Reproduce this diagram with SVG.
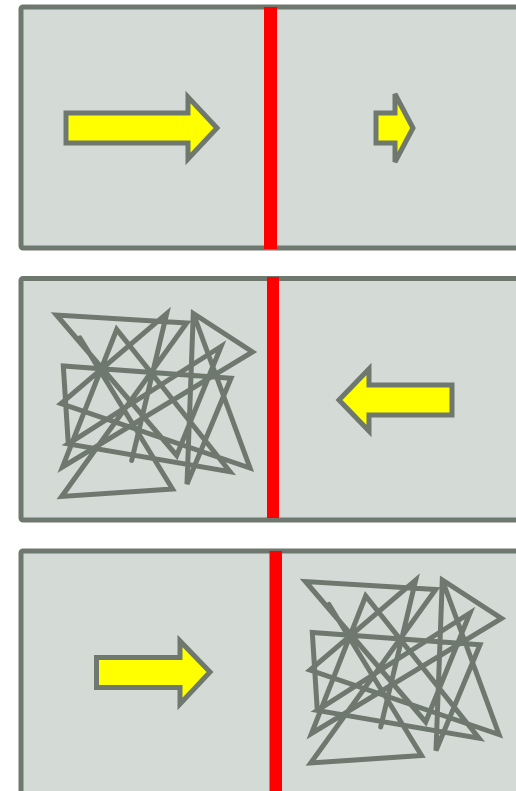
<svg xmlns="http://www.w3.org/2000/svg" xmlns:xlink="http://www.w3.org/1999/xlink" width="516" height="791" viewBox="0 0 516 791">
<style>
.panel{fill:#d4dad6;stroke:#6e786f;stroke-width:5}
.divider{fill:#ff0000}
.arrow{fill:#ffff00;stroke:#6e786f;stroke-width:5;stroke-linejoin:miter}
.scribble{fill:none;stroke:#6e786f;stroke-width:5;stroke-linejoin:miter;stroke-linecap:round}
</style>
<defs>
<path id="mess" class="scribble" d="M80,338 L172.5,489 L61.7,496.5 L186.7,323 L56.5,315 L176.7,455.5 L221,346.5 L68.3,444 L230,471.7 L116.7,329.5 L62.5,467 L252.5,352 L193.3,313.5 L187,484 L231,378.3 L63.3,366 L68.3,444 M131.7,460.5 L166.7,313.5 L61,403.5 L250,468 L193.3,313.5"/>
</defs>
<rect width="516" height="791" fill="#ffffff"/>
<g id="panel1">
<rect class="panel" x="21" y="7" width="520" height="241" rx="2"/>
<rect class="divider" x="264" y="7" width="13" height="242"/>
<polygon class="arrow" points="66,113 188,113 188,97 217,128 188,159 188,143 66,143"/>
<polygon class="arrow" points="376,113 395,113 395,94 413,128 395,162 395,143 376,143"/>
</g>
<g id="panel2">
<rect class="panel" x="21" y="278.5" width="520" height="241.5" rx="2"/>
<rect class="divider" x="267" y="277" width="12" height="241"/>
<use xlink:href="#mess" href="#mess"/>
<polygon class="arrow" points="452,385 369,385 369,369 339,400 369,431 369,415 452,415"/>
</g>
<g id="panel3">
<rect class="panel" x="21" y="551" width="520" height="245" rx="2"/>
<rect class="divider" x="269.5" y="551" width="12.5" height="240"/>
<polygon class="arrow" points="96.5,657.5 180,657.5 180,641 210,672 180,704 180,687.5 96.5,687.5"/>
<use xlink:href="#mess" href="#mess" transform="translate(249,266.5)"/>
</g>
</svg>
